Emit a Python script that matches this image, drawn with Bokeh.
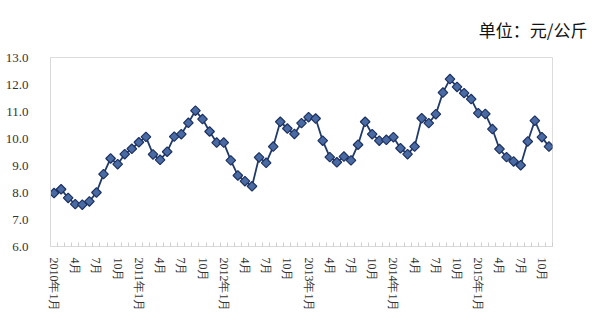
import math
from bokeh.plotting import figure
from bokeh.models import FixedTicker, Range1d
from bokeh.embed import file_html
from bokeh.resources import INLINE

years = [2010, 2011, 2012, 2013, 2014, 2015]
tick_months = [1, 4, 7, 10]

prices = [
    7.98, 8.12, 7.80, 7.57, 7.55, 7.67, 8.00, 8.68, 9.26, 9.05, 9.42, 9.62,
    9.86, 10.06, 9.41, 9.21, 9.51, 10.07, 10.16, 10.58, 11.03, 10.72, 10.26, 9.85,
    9.85, 9.19, 8.63, 8.42, 8.23, 9.30, 9.10, 9.70, 10.62, 10.37, 10.17, 10.57,
    10.79, 10.74, 9.92, 9.31, 9.12, 9.33, 9.19, 9.77, 10.62, 10.16, 9.92, 9.95,
    10.05, 9.64, 9.42, 9.70, 10.75, 10.57, 10.90, 11.70, 12.20, 11.91, 11.68, 11.46,
    10.94, 10.91, 10.35, 9.61, 9.31, 9.15, 9.01, 9.89, 10.66, 10.05, 9.70,
]
y_ticks = [6.0, 7.0, 8.0, 9.0, 10.0, 11.0, 12.0, 13.0]
unit_text = "单位：元/公斤"

idx = list(range(len(prices)))
tick_pos = []
tick_labels = {}
for i in idx:
    yr = years[0] + i // 12
    m = i % 12 + 1
    if m in tick_months:
        tick_pos.append(i)
        tick_labels[i] = f"{yr}年{m}月" if m == 1 else f"{m}月"

serif = "Liberation Serif"

p = figure(width=587, height=315, output_backend="svg", toolbar_location=None,
           x_range=Range1d(-0.5, len(prices) - 0.5), y_range=Range1d(6, 13),
           min_border_left=50, min_border_right=35, min_border_top=57,
           min_border_bottom=69, title=unit_text)
p.background_fill_color = "white"
p.border_fill_color = "white"
p.outline_line_color = "#dcdcdc"
p.xgrid.visible = False
p.ygrid.visible = False

p.title.align = "right"
p.title.vertical_align = "top"
p.title.offset = -35
p.title.standoff = 28
p.title.text_font = "Noto Sans CJK SC"
p.title.text_font_size = "17px"
p.title.text_font_style = "normal"
p.title.text_color = "#111111"

p.line(idx, prices, line_color="#203a6b", line_width=1.8)
p.scatter(idx, prices, marker="square", angle=math.pi / 4, size=6.8,
          fill_color="#4a6aa3", line_color="#1d3260", line_width=1.2)

xa = p.xaxis[0]
xa.ticker = FixedTicker(ticks=tick_pos, minor_ticks=[i - 0.5 for i in range(len(prices) + 1)])
xa.major_label_overrides = tick_labels
xa.major_label_orientation = "vertical"
xa.major_label_text_font = serif
xa.major_label_text_font_size = "12px"
xa.major_label_text_color = "#333333"
xa.major_label_standoff = 11
xa.axis_line_color = "#d9d9d9"
xa.major_tick_line_color = None
xa.major_tick_out = 0
xa.major_tick_in = 0
xa.minor_tick_line_color = "#cfcfcf"
xa.minor_tick_in = 4
xa.minor_tick_out = 0

ya = p.yaxis[0]
ya.ticker = FixedTicker(ticks=y_ticks)
ya.major_label_overrides = {v: f"{v:.1f}" for v in y_ticks}
ya.major_label_text_font = serif
ya.major_label_text_font_size = "13px"
ya.major_label_text_color = "#333333"
ya.major_label_standoff = 16
ya.axis_line_color = "#d9d9d9"
ya.major_tick_line_color = None
ya.minor_tick_line_color = None

open("out.html", "w").write(file_html(p, INLINE))
